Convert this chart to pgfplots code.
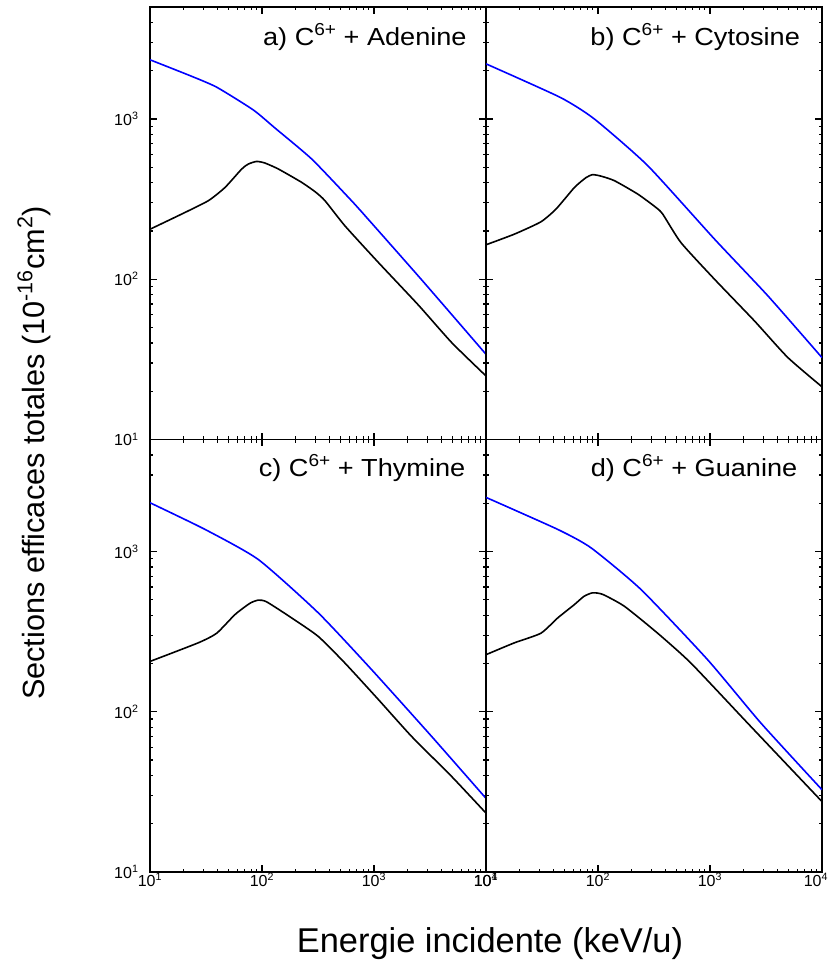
\documentclass[border=0pt]{standalone}
\usepackage{fontspec}
\setmainfont{Liberation Sans}
\newfontfamily\panelfont[FakeStretch=1.1]{Liberation Sans}
\usepackage{pgfplots}
\pgfplotsset{compat=1.18}

\pgfplotsset{
  every axis/.append style={
    scale only axis, width=252pt, height=324.4pt,
    xmin=10, xmax=10000, ymin=10, ymax=5000,
    xtick={10,100,1000,10000},
    minor xtick={20,30,40,50,60,70,80,90,200,300,400,500,600,700,800,900,2000,3000,4000,5000,6000,7000,8000,9000},
    ytick={10,100,1000},
    minor ytick={20,30,40,50,60,70,80,90,200,300,400,500,600,700,800,900,2000,3000,4000},
    tick align=inside,
    major tick length=5pt, minor tick length=2.6pt,
    axis line style={line width=1.3pt},
    tick style={line width=0.9pt, black},
    tick label style={font=\fontsize{12}{13}\selectfont},
    xticklabel style={inner sep=0.5pt},
    yticklabel style={xshift=-5pt},
  }
}
\tikzset{
  blk/.style={black, line width=1.2pt, smooth, tension=0.35},
  blu/.style={blue, line width=1.2pt, smooth, tension=0.35},
  plab/.style={anchor=base east, font=\panelfont\fontsize{18.5}{20}\selectfont}
}
\newcommand{\sx}{\raisebox{0.42em}{\fontsize{13}{14}\selectfont 6+}}

\begin{document}
\begin{tikzpicture}
\path[use as bounding box] (0,0) rectangle (623.25pt,725.25pt);

% a) Adenine
\begin{loglogaxis}[at={(112.5pt,395.65pt)}, anchor=south west,
  xticklabels={}, yticklabels={10\textsuperscript{1},10\textsuperscript{2},10\textsuperscript{3}}]
\addplot[blu] coordinates {(10,2339) (22.8,1862) (39.4,1578) (83.6,1138) (130,880) (278,562) (611,316) (832,249) (2667,99) (10000,34)};
\addplot[blk] coordinates {(10,205) (19.2,255) (33.2,309) (46.8,374) (65.9,487) (75.5,523) (89.5,543) (106,531) (140,487) (226,402) (300,350) (365,309) (551,215) (1096,127) (2489,69) (4943,40.2) (10000,24.9)};
\node[plab, xshift=-11pt, yshift=-29pt] at (rel axis cs:1,1) {a) C\sx{} + Adenine};
\end{loglogaxis}

% b) Cytosine
\begin{loglogaxis}[at={(364.5pt,395.65pt)}, anchor=south west, xticklabels={}, yticklabels={}]
\addplot[blu] coordinates {(10,2207) (45.8,1365) (92.7,1000) (278,511) (1096,178) (3273,79) (10000,32.4)};
\addplot[blk] coordinates {(10,164) (17.9,191) (30.9,228) (42.2,274) (61.7,374) (78,430) (89.5,449) (106,440) (140,412) (226,340) (330,280) (378,255) (551,169) (1096,100) (2489,55) (4943,32.5) (10000,21.3)};
\node[plab, xshift=-13pt, yshift=-29pt] at (rel axis cs:1,1) {b) C\sx{} + Cytosine};
\end{loglogaxis}

% c) Thymine
\begin{loglogaxis}[at={(112.5pt,71.25pt)}, anchor=south west,
  xticklabels={10\textsuperscript{1},10\textsuperscript{2},10\textsuperscript{3},10\textsuperscript{4}},
  yticklabels={10\textsuperscript{1},10\textsuperscript{2},10\textsuperscript{3}}]
\addplot[blu] coordinates {(10,2014) (31,1373) (92.7,891) (318,414) (953,183) (3273,70.1) (10000,28.8)};
\addplot[blk] coordinates {(10,206) (26.9,269) (39.4,309) (57.4,404) (78,475) (92.7,497) (110,485) (184,385) (318,295) (551,201) (1096,119) (2168,70.1) (4943,39.4) (10000,23.3)};
\node[plab, xshift=-12pt, yshift=-28pt] at (rel axis cs:1,1) {c) C\sx{} + Thymine};
\end{loglogaxis}

% d) Guanine
\begin{loglogaxis}[at={(364.5pt,71.25pt)}, anchor=south west,
  xticklabels={10\textsuperscript{1},10\textsuperscript{2},10\textsuperscript{3},\hspace*{-9pt}10\textsuperscript{4}},
  yticklabels={}]
\addplot[blu] coordinates {(10,2175) (43.7,1373) (86.6,1054) (242,579) (953,211) (2851,84.9) (10000,32.6)};
\addplot[blk] coordinates {(10,227) (17.9,269) (30.9,309) (43.7,385) (61.7,467) (75,525) (89.5,552) (110,540) (172,455) (341,309) (676,201) (2168,84.9) (10000,27.5)};
\node[plab, xshift=-15pt, yshift=-28pt] at (rel axis cs:1,1) {d) C\sx{} + Guanine};
\end{loglogaxis}

\node[rotate=90, font=\fontsize{23}{25}\selectfont] at (25.5pt,385.5pt) {Sections efficaces totales (10\textsuperscript{-16}cm\textsuperscript{2})};
\node[anchor=base, font=\fontsize{25.8}{27}\selectfont] at (367.5pt,10.5pt) {Energie incidente (keV/u)};
\end{tikzpicture}
\end{document}
